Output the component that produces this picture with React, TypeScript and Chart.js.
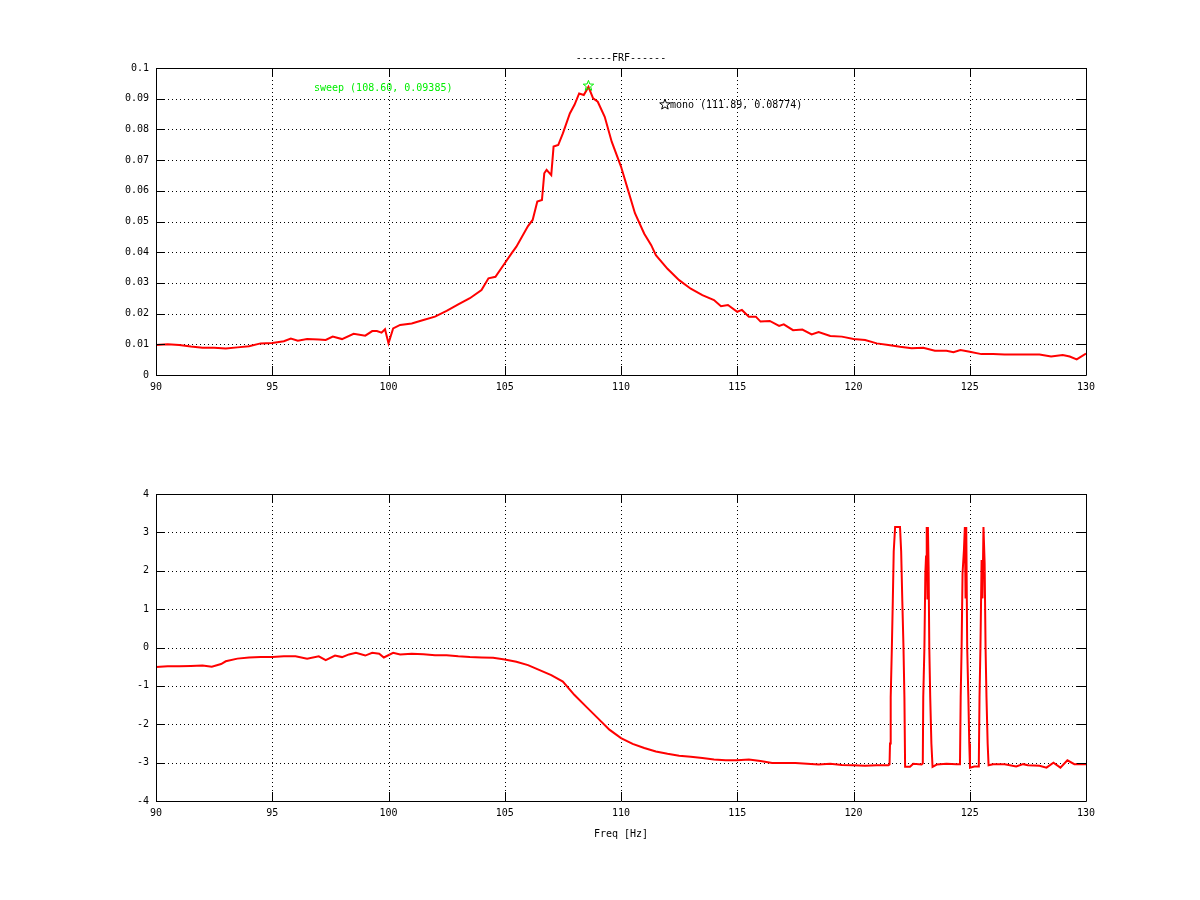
import { useEffect, useRef } from "react";
import Chart from "chart.js/auto";

const FONT = "DejaVu Sans Mono";

// magnitude of the FRF (upper plot)
const freqMag = [
  90, 90.5, 91, 91.5, 92, 92.5, 93, 93.5, 94, 94.5, 95, 95.5, 95.8, 96.1, 96.5, 97, 97.3, 97.6, 98,
  98.5, 99, 99.3, 99.5, 99.7, 99.85, 100, 100.2, 100.5, 101, 101.5, 102, 102.5, 103, 103.5, 104,
  104.3, 104.6, 105, 105.3, 105.5, 106, 106.2, 106.4, 106.6, 106.7, 106.8, 107, 107.1, 107.3, 107.5,
  107.8, 108, 108.2, 108.4, 108.6, 108.8, 109, 109.3, 109.6, 110, 110.3, 110.6, 111, 111.3, 111.5,
  112, 112.5, 113, 113.5, 114, 114.3, 114.6, 115, 115.2, 115.5, 115.8, 116, 116.4, 116.8, 117,
  117.4, 117.8, 118.2, 118.5, 119, 119.5, 120, 120.5, 121, 121.5, 122, 122.5, 123, 123.5, 124,
  124.3, 124.6, 125, 125.5, 126, 126.5, 127, 127.5, 128, 128.5, 129, 129.3, 129.6, 130,
];
const magValues = [
  0.0098, 0.01, 0.0098, 0.0093, 0.0089, 0.0089, 0.0086, 0.009, 0.0094, 0.0103, 0.0104, 0.011,
  0.0119, 0.0112, 0.0117, 0.0116, 0.0114, 0.0125, 0.0117, 0.0134, 0.0128, 0.0143, 0.0143, 0.0138,
  0.0149, 0.0103, 0.0152, 0.0163, 0.0168, 0.0179, 0.019, 0.0209, 0.023, 0.025, 0.0277, 0.0315,
  0.032, 0.0364, 0.0397, 0.0418, 0.0485, 0.0505, 0.0565, 0.057, 0.0657, 0.0668, 0.0651, 0.0744,
  0.0749, 0.0787, 0.0852, 0.088, 0.0917, 0.0912, 0.09385, 0.0901, 0.089, 0.0841, 0.076, 0.0679,
  0.0603, 0.0527, 0.046, 0.0423, 0.039, 0.0346, 0.0309, 0.0281, 0.026, 0.0244, 0.0224, 0.0228,
  0.0206, 0.0212, 0.019, 0.019, 0.0174, 0.0176, 0.016, 0.0165, 0.0146, 0.0148, 0.0132, 0.014,
  0.0127, 0.0125, 0.0117, 0.0114, 0.0103, 0.0098, 0.0092, 0.0087, 0.0089, 0.0079, 0.0079, 0.0074,
  0.0081, 0.0076, 0.0068, 0.0068, 0.0067, 0.0067, 0.0067, 0.0067, 0.006, 0.0065, 0.006, 0.0051,
  0.007,
];

// phase of the FRF (lower plot)
const freqPhase = [
  90, 90.5, 91, 91.5, 92, 92.4, 92.8, 93, 93.5, 94, 94.5, 95, 95.5, 96, 96.5, 97, 97.3, 97.7, 98,
  98.3, 98.6, 99, 99.3, 99.6, 99.8, 100.2, 100.5, 101, 101.5, 102, 102.5, 103, 103.5, 104, 104.5,
  105, 105.5, 106, 106.5, 107, 107.5, 108, 108.5, 109, 109.5, 110, 110.5, 111, 111.5, 112, 112.5,
  113, 113.5, 114, 114.5, 115, 115.5, 116, 116.5, 117, 117.5, 118, 118.5, 119, 119.5, 120, 120.5,
  121, 121.5, 121.55, 121.57, 121.6, 121.65, 121.69, 121.73, 121.79, 122, 122.05, 122.1, 122.15,
  122.19, 122.22, 122.43, 122.57, 122.93, 122.98, 123, 123.05, 123.09, 123.12, 123.15, 123.18,
  123.2, 123.23, 123.26, 123.3, 123.35, 123.4, 123.58, 124, 124.43, 124.58, 124.61, 124.65, 124.69,
  124.75, 124.79, 124.82, 124.85, 124.89, 124.94, 124.98, 125.01, 125.2, 125.36, 125.39, 125.42,
  125.46, 125.51, 125.55, 125.59, 125.64, 125.68, 125.72, 125.77, 125.81, 126, 126.5, 127, 127.3,
  127.5, 128, 128.3, 128.6, 128.9, 129.2, 129.5, 130,
];
const phaseValues = [
  -0.51, -0.49, -0.49, -0.48, -0.47, -0.5, -0.43, -0.36, -0.29, -0.26, -0.25, -0.25, -0.23, -0.23,
  -0.29, -0.23, -0.33, -0.21, -0.25, -0.18, -0.14, -0.21, -0.14, -0.16, -0.26, -0.14, -0.18, -0.16,
  -0.175, -0.2, -0.2, -0.23, -0.25, -0.26, -0.27, -0.31, -0.37, -0.46, -0.59, -0.72, -0.89, -1.24,
  -1.54, -1.84, -2.14, -2.36, -2.51, -2.62, -2.71, -2.77, -2.82, -2.85, -2.88, -2.92, -2.94, -2.94,
  -2.92, -2.96, -3.01, -3.01, -3.01, -3.03, -3.05, -3.03, -3.06, -3.07, -3.08, -3.07, -3.07, -3.05,
  -2.5, -1.3, 0, 1.2, 2.5, 3.14, 3.14, 2.5, 1.2, 0, -1.3, -3.11, -3.11, -3.03, -3.05, -3.02, -1.3,
  0, 1.93, 2.37, 3.14, 1.28, 3.14, 2.1, 0, -1.3, -2.5, -3.11, -3.05, -3.03, -3.04, -3.04, -1.3, 0,
  1.93, 2.54, 3.14, 1.28, 3.14, 0, -1.3, -2.5, -3.13, -3.1, -3.1, -3.03, -1.3, 0, 2.28, 1.28, 3.14,
  2.2, 0, -1.3, -2.5, -3.07, -3.04, -3.04, -3.1, -3.04, -3.07, -3.08, -3.13, -3, -3.13, -2.94,
  -3.04, -3.04,
];

const freqTicks = [90, 95, 100, 105, 110, 115, 120, 125, 130];
const magTicks = [0, 0.01, 0.02, 0.03, 0.04, 0.05, 0.06, 0.07, 0.08, 0.09, 0.1];
const phaseTicks = [-4, -3, -2, -1, 0, 1, 2, 3, 4];

// peak markers
const markerNames = ["sweep", "mono"];
const markerFreq = [108.6, 111.89];
const markerMag = [0.09385, 0.08774];
const markerColors = ["#00ee00", "#000000"];

const W = 1200;
const H = 450;
const PLOT_LEFT = 156;
const PLOT_RIGHT = 1086;

function drawStar(ctx: CanvasRenderingContext2D, cx: number, cy: number, r: number, color: string) {
  ctx.save();
  ctx.strokeStyle = color;
  ctx.lineWidth = 1;
  ctx.beginPath();
  for (let i = 0; i < 10; i++) {
    const rad = i % 2 === 0 ? r : r * 0.42;
    const a = -Math.PI / 2 + (i * Math.PI) / 5;
    const px = cx + rad * Math.cos(a);
    const py = cy + rad * Math.sin(a);
    if (i === 0) ctx.moveTo(px, py);
    else ctx.lineTo(px, py);
  }
  ctx.closePath();
  ctx.stroke();
  ctx.restore();
}

// gnuplot-like frame: dotted grid, solid border, inward ticks on all sides
const framePlugin = {
  id: "gnuframe",
  beforeDatasetsDraw(chart: any) {
    const { ctx, chartArea, scales } = chart;
    const { left, right, top, bottom } = chartArea;
    ctx.save();
    ctx.strokeStyle = "#000";
    ctx.lineWidth = 1;
    ctx.setLineDash([1, 3]);
    ctx.beginPath();
    scales.x.ticks.forEach((t: any) => {
      const px = Math.round(scales.x.getPixelForValue(t.value)) + 0.5;
      if (px > left + 2 && px < right - 2) {
        ctx.moveTo(px, top);
        ctx.lineTo(px, bottom);
      }
    });
    scales.y.ticks.forEach((t: any) => {
      const py = Math.round(scales.y.getPixelForValue(t.value)) + 0.5;
      if (py > top + 2 && py < bottom - 2) {
        ctx.moveTo(left, py);
        ctx.lineTo(right, py);
      }
    });
    ctx.stroke();
    ctx.restore();
  },
  afterDatasetsDraw(chart: any) {
    const { ctx, chartArea, scales } = chart;
    const { left, right, top, bottom } = chartArea;
    const tl = 9;
    ctx.save();
    ctx.strokeStyle = "#000";
    ctx.lineWidth = 1;
    ctx.setLineDash([]);
    ctx.beginPath();
    ctx.rect(Math.round(left) + 0.5, Math.round(top) + 0.5, Math.round(right - left), Math.round(bottom - top));
    scales.x.ticks.forEach((t: any) => {
      const px = Math.round(scales.x.getPixelForValue(t.value)) + 0.5;
      ctx.moveTo(px, bottom);
      ctx.lineTo(px, bottom - tl);
      ctx.moveTo(px, top);
      ctx.lineTo(px, top + tl);
    });
    scales.y.ticks.forEach((t: any) => {
      const py = Math.round(scales.y.getPixelForValue(t.value)) + 0.5;
      ctx.moveTo(left, py);
      ctx.lineTo(left + tl, py);
      ctx.moveTo(right, py);
      ctx.lineTo(right - tl, py);
    });
    ctx.stroke();
    ctx.restore();
  },
};

const magTextPlugin = {
  id: "magtext",
  afterDraw(chart: any) {
    const { ctx, chartArea, scales } = chart;
    ctx.save();
    ctx.font = `10px "${FONT}"`;
    ctx.fillStyle = "#000";
    ctx.textAlign = "center";
    ctx.textBaseline = "middle";
    ctx.fillText("------FRF------", (chartArea.left + chartArea.right) / 2, chartArea.top - 10);

    markerNames.forEach((name, i) => {
      const px = scales.x.getPixelForValue(markerFreq[i]);
      const py = scales.y.getPixelForValue(markerMag[i]);
      drawStar(ctx, px, py - 1, 5.5, markerColors[i]);
      const label = `${name} (${markerFreq[i].toFixed(2)}, ${markerMag[i].toFixed(5)})`;
      ctx.fillStyle = markerColors[i];
      if (i === 0) {
        ctx.textAlign = "right";
        ctx.fillText(label, px - 136, py + 2);
      } else {
        ctx.textAlign = "left";
        ctx.fillText(label, px + 5, py);
      }
    });
    ctx.restore();
  },
};

const phaseTextPlugin = {
  id: "phasetext",
  afterDraw(chart: any) {
    const { ctx, chartArea } = chart;
    ctx.save();
    ctx.font = `10px "${FONT}"`;
    ctx.fillStyle = "#000";
    ctx.textAlign = "center";
    ctx.textBaseline = "middle";
    ctx.fillText("Freq [Hz]", (chartArea.left + chartArea.right) / 2, chartArea.bottom + 33);
    ctx.restore();
  },
};

function makeConfig(
  xs: number[],
  ys: number[],
  yTicks: number[],
  yMin: number,
  yMax: number,
  top: number,
  xHeight: number,
  textPlugin: any
): any {
  const tickFont = { family: FONT, size: 10 };
  return {
    type: "line",
    data: {
      datasets: [
        {
          data: xs.map((x, i) => ({ x, y: ys[i] })),
          borderColor: "#ff0000",
          borderWidth: 2,
          pointRadius: 0,
          tension: 0,
          fill: false,
        },
      ],
    },
    options: {
      animation: false,
      responsive: false,
      devicePixelRatio: 1,
      layout: { padding: { left: 0, right: W - PLOT_RIGHT, top, bottom: 0 } },
      plugins: { legend: { display: false }, tooltip: { enabled: false }, title: { display: false } },
      scales: {
        x: {
          type: "linear",
          min: 90,
          max: 130,
          afterBuildTicks: (s: any) => {
            s.ticks = freqTicks.map((v) => ({ value: v }));
          },
          afterFit: (s: any) => {
            s.height = xHeight;
          },
          grid: { display: false, drawTicks: false },
          border: { display: false },
          ticks: {
            color: "#000",
            font: tickFont,
            padding: 6,
            maxRotation: 0,
            autoSkip: false,
            callback: (v: number) => String(v),
          },
        },
        y: {
          type: "linear",
          min: yMin,
          max: yMax,
          afterBuildTicks: (s: any) => {
            s.ticks = yTicks.map((v) => ({ value: v }));
          },
          afterFit: (s: any) => {
            s.width = PLOT_LEFT;
          },
          grid: { display: false, drawTicks: false },
          border: { display: false },
          ticks: {
            color: "#000",
            font: tickFont,
            padding: 7,
            autoSkip: false,
            callback: (v: number) => String(v),
          },
        },
      },
    },
    plugins: [framePlugin, textPlugin],
  };
}

export default function App() {
  const magRef = useRef<HTMLCanvasElement>(null);
  const phaseRef = useRef<HTMLCanvasElement>(null);

  useEffect(() => {
    if (!magRef.current || !phaseRef.current) return;
    const magChart = new Chart(
      magRef.current,
      makeConfig(freqMag, magValues, magTicks, 0, 0.1, 68, H - 375, magTextPlugin)
    );
    const phaseChart = new Chart(
      phaseRef.current,
      makeConfig(freqPhase, phaseValues, phaseTicks, -4, 4, 44, H - 351, phaseTextPlugin)
    );
    return () => {
      magChart.destroy();
      phaseChart.destroy();
    };
  }, []);

  return (
    <div style={{ position: "absolute", left: 0, top: 0, width: W, height: 900, background: "#fff" }}>
      <canvas ref={magRef} width={W} height={H} style={{ display: "block", width: W, height: H }} />
      <canvas ref={phaseRef} width={W} height={H} style={{ display: "block", width: W, height: H }} />
    </div>
  );
}
